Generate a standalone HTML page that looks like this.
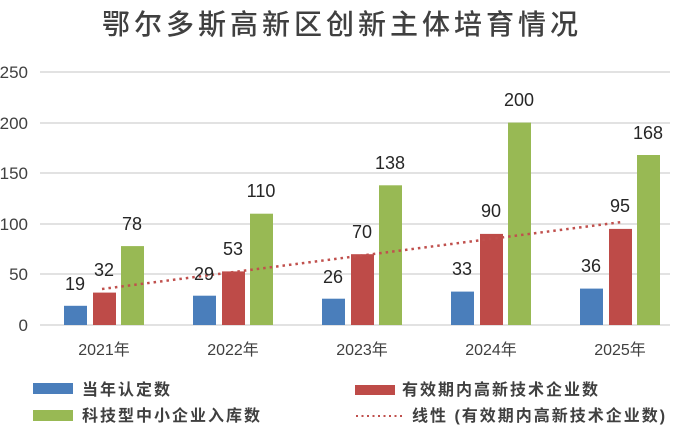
<!DOCTYPE html>
<html><head><meta charset="utf-8"><style>
html,body{margin:0;padding:0;background:#fff;}
svg{display:block;font-family:"Liberation Sans","Noto Sans CJK SC",sans-serif;}
</style></head><body>
<svg width="682" height="442" viewBox="0 0 682 442" xmlns="http://www.w3.org/2000/svg">
<rect width="682" height="442" fill="#fff"/>
<text x="342" y="34" text-anchor="middle" font-size="28" fill="#404040" letter-spacing="4" font-weight="500" font-family="'Noto Sans CJK SC',sans-serif">鄂尔多斯高新区创新主体培育情况</text>
<g stroke="#d9d9d9" stroke-width="1.5">
<line x1="40" x2="670" y1="72" y2="72"/><line x1="40" x2="670" y1="123" y2="123"/>
<line x1="40" x2="670" y1="173" y2="173"/><line x1="40" x2="670" y1="224" y2="224"/>
<line x1="40" x2="670" y1="274" y2="274"/><line x1="40" x2="670" y1="325" y2="325"/>
</g>
<g font-size="17" fill="#404040" text-anchor="end">
<text x="28" y="78">250</text><text x="28" y="129">200</text><text x="28" y="179">150</text>
<text x="28" y="230">100</text><text x="28" y="280">50</text><text x="28" y="331">0</text>
</g>
<g>
<rect x="64" y="305.8" width="23" height="19.2" fill="#4a7ebb"/>
<rect x="93" y="292.6" width="23" height="32.4" fill="#be4b48"/>
<rect x="121" y="246.1" width="23" height="78.9" fill="#98b954"/>
<rect x="193" y="295.7" width="23" height="29.3" fill="#4a7ebb"/>
<rect x="222" y="271.4" width="23" height="53.6" fill="#be4b48"/>
<rect x="250" y="213.7" width="23" height="111.3" fill="#98b954"/>
<rect x="322" y="298.7" width="23" height="26.3" fill="#4a7ebb"/>
<rect x="351" y="254.2" width="23" height="70.8" fill="#be4b48"/>
<rect x="379" y="185.3" width="23" height="139.7" fill="#98b954"/>
<rect x="451" y="291.6" width="23" height="33.4" fill="#4a7ebb"/>
<rect x="480" y="233.9" width="23" height="91.1" fill="#be4b48"/>
<rect x="508" y="122.6" width="23" height="202.4" fill="#98b954"/>
<rect x="580" y="288.6" width="23" height="36.4" fill="#4a7ebb"/>
<rect x="609" y="228.9" width="23" height="96.1" fill="#be4b48"/>
<rect x="637" y="155" width="23" height="170" fill="#98b954"/>
</g>
<line x1="102" y1="289" x2="622" y2="222" stroke="#c0504d" stroke-width="2.5" stroke-dasharray="2.5 4"/>
<g font-size="18" fill="#262626" text-anchor="middle">
<text x="75" y="290">19</text><text x="104" y="276">32</text><text x="132" y="230">78</text>
<text x="204" y="280">29</text><text x="233" y="255">53</text><text x="261" y="197">110</text>
<text x="333" y="283">26</text><text x="362" y="238">70</text><text x="390" y="169">138</text>
<text x="462" y="275">33</text><text x="491" y="217">90</text><text x="519" y="106">200</text>
<text x="591" y="272">36</text><text x="620" y="212">95</text><text x="648" y="139">168</text>
</g>
<g font-size="16" fill="#404040" text-anchor="middle">
<text x="104" y="355">2021年</text><text x="233" y="355">2022年</text><text x="362" y="355">2023年</text>
<text x="491" y="355">2024年</text><text x="620" y="355">2025年</text>
</g>
<rect x="33" y="383" width="40" height="11" fill="#4a7ebb"/>
<rect x="33" y="410" width="40" height="11" fill="#98b954"/>
<rect x="355" y="385" width="40" height="10" fill="#be4b48"/>
<line x1="356" y1="416" x2="404" y2="416" stroke="#c0504d" stroke-width="2" stroke-dasharray="2 3.5"/>
<g font-size="16" fill="#404040" letter-spacing="2" font-weight="600">
<text x="82" y="395">当年认定数</text>
<text x="82" y="421">科技型中小企业入库数</text>
<text x="402" y="395">有效期内高新技术企业数</text>
<text x="412" y="421">线性 (有效期内高新技术企业数)</text>
</g>
</svg>
</body></html>
